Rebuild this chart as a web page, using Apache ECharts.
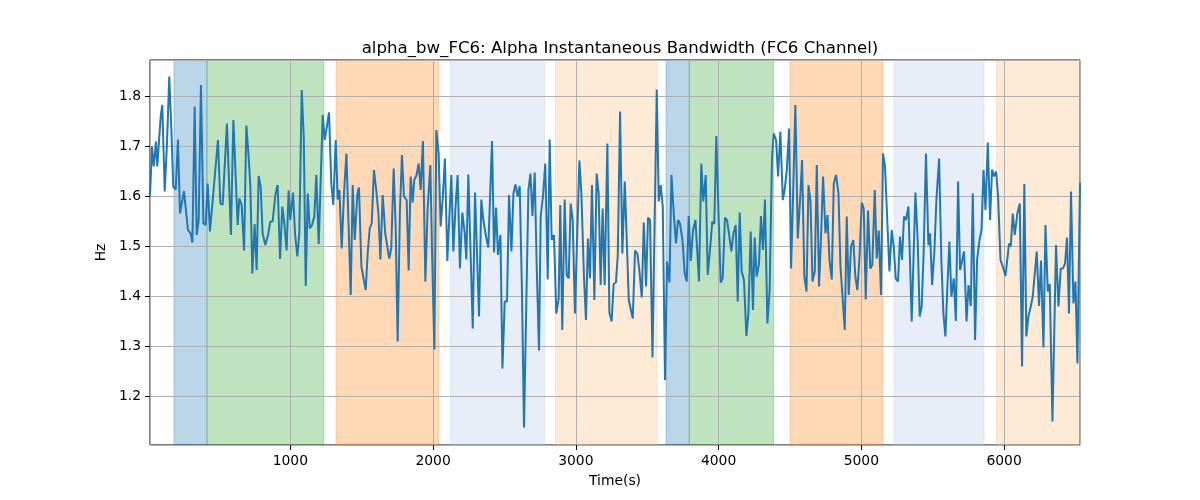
<!DOCTYPE html>
<html>
<head>
<meta charset="utf-8">
<script src="https://cdn.jsdelivr.net/npm/echarts@6/dist/echarts.min.js"></script>
<style>
  html, body { margin: 0; padding: 0; background: #fff; }
  #chart { width: 1200px; height: 500px; }
</style>
</head>
<body>
<div id="chart"></div>
<script>
// 时间 (s)
var times = [
  17, 31, 43, 59, 68, 92, 103, 120, 136, 152, 166, 180, 197, 213, 227, 255, 283, 302, 314, 330,
  344, 358, 374, 391, 407, 421, 437, 451, 493, 510, 526, 556, 584, 601, 631, 643, 659, 676, 692, 708,
  720, 734, 750, 764, 778, 792, 806, 825, 844, 860, 876, 895, 911, 928, 944, 960, 974, 988, 1000, 1019,
  1033, 1049, 1063, 1080, 1094, 1108, 1122, 1136, 1152, 1168, 1182, 1199, 1227, 1241, 1271, 1287, 1301, 1318, 1332, 1344,
  1360, 1376, 1393, 1423, 1437, 1451, 1470, 1481, 1498, 1512, 1528, 1542, 1556, 1570, 1586, 1603, 1617, 1631, 1647, 1665,
  1682, 1693, 1707, 1724, 1738, 1752, 1768, 1782, 1796, 1815, 1829, 1843, 1857, 1868, 1885, 1899, 1913, 1929, 1946, 1962,
  1981, 1992, 2009, 2023, 2039, 2053, 2067, 2083, 2100, 2114, 2128, 2142, 2156, 2172, 2188, 2205, 2222, 2233, 2247, 2278,
  2294, 2322, 2338, 2352, 2371, 2387, 2413, 2427, 2441, 2455, 2472, 2486, 2502, 2518, 2532, 2549, 2563, 2577, 2593, 2607,
  2623, 2637, 2668, 2682, 2696, 2712, 2726, 2742, 2754, 2770, 2786, 2803, 2817, 2831, 2847, 2863, 2880, 2891, 2905, 2922,
  2936, 2950, 2964, 2978, 2994, 3025, 3039, 3057, 3071, 3085, 3099, 3113, 3130, 3146, 3160, 3174, 3188, 3202, 3221, 3235,
  3251, 3265, 3281, 3294, 3310, 3326, 3343, 3371, 3385, 3399, 3415, 3431, 3445, 3462, 3476, 3492, 3506, 3520, 3537, 3567,
  3581, 3595, 3609, 3625, 3639, 3656, 3670, 3686, 3702, 3716, 3730, 3747, 3763, 3777, 3791, 3805, 3821, 3838, 3863, 3879,
  3893, 3910, 3924, 3940, 3956, 3970, 3984, 3998, 4015, 4029, 4045, 4059, 4073, 4090, 4104, 4120, 4134, 4148, 4162, 4178,
  4195, 4209, 4225, 4241, 4253, 4267, 4283, 4297, 4311, 4325, 4342, 4358, 4374, 4386, 4403, 4417, 4433, 4450, 4464, 4478,
  4494, 4508, 4524, 4538, 4555, 4571, 4585, 4601, 4616, 4630, 4644, 4658, 4674, 4688, 4704, 4718, 4732, 4749, 4763, 4777,
  4793, 4807, 4823, 4840, 4854, 4870, 4884, 4898, 4912, 4928, 4944, 4958, 4972, 4986, 5003, 5017, 5031, 5047, 5063, 5077,
  5094, 5108, 5122, 5138, 5152, 5166, 5180, 5197, 5213, 5227, 5241, 5257, 5271, 5285, 5299, 5313, 5330, 5341, 5353, 5365,
  5379, 5395, 5409, 5423, 5437, 5453, 5470, 5482, 5496, 5512, 5526, 5545, 5561, 5575, 5589, 5603, 5617, 5631, 5648, 5662,
  5678, 5692, 5706, 5720, 5737, 5751, 5767, 5781, 5797, 5811, 5828, 5842, 5856, 5870, 5886, 5902, 5916, 5930, 5944, 5958,
  5975, 5991, 6010, 6035, 6047, 6061, 6075, 6093, 6110, 6126, 6142, 6156, 6170, 6187, 6201, 6215, 6229, 6245, 6259, 6276,
  6290, 6306, 6320, 6339, 6364, 6381, 6397, 6413, 6427, 6441, 6455, 6469, 6486, 6500, 6514, 6532
];
// alpha 瞬时带宽 (Hz)
var bandwidth = [
  1.600, 1.699, 1.659, 1.709, 1.659, 1.759, 1.782, 1.609, 1.705, 1.839, 1.739, 1.619, 1.613, 1.713, 1.565, 1.610, 1.532, 1.525, 1.507, 1.779,
  1.522, 1.552, 1.822, 1.545, 1.542, 1.625, 1.529, 1.527, 1.712, 1.585, 1.582, 1.745, 1.522, 1.752, 1.542, 1.595, 1.582, 1.491, 1.741, 1.679,
  1.619, 1.445, 1.544, 1.452, 1.640, 1.619, 1.525, 1.502, 1.522, 1.549, 1.549, 1.602, 1.622, 1.474, 1.579, 1.539, 1.491, 1.611, 1.552, 1.607,
  1.525, 1.479, 1.525, 1.812, 1.719, 1.420, 1.605, 1.535, 1.542, 1.559, 1.642, 1.504, 1.762, 1.712, 1.767, 1.625, 1.582, 1.712, 1.593, 1.612,
  1.495, 1.605, 1.685, 1.402, 1.622, 1.512, 1.605, 1.617, 1.459, 1.455, 1.412, 1.485, 1.535, 1.545, 1.652, 1.609, 1.565, 1.473, 1.602, 1.525,
  1.495, 1.475, 1.495, 1.655, 1.539, 1.309, 1.572, 1.682, 1.599, 1.592, 1.451, 1.639, 1.587, 1.632, 1.642, 1.665, 1.612, 1.710, 1.429, 1.575,
  1.662, 1.499, 1.293, 1.732, 1.685, 1.539, 1.592, 1.675, 1.470, 1.559, 1.642, 1.489, 1.572, 1.642, 1.455, 1.567, 1.525, 1.473, 1.643, 1.335,
  1.607, 1.359, 1.593, 1.552, 1.519, 1.497, 1.710, 1.487, 1.577, 1.482, 1.522, 1.255, 1.389, 1.389, 1.602, 1.489, 1.605, 1.623, 1.599, 1.620,
  1.405, 1.137, 1.612, 1.645, 1.560, 1.647, 1.459, 1.291, 1.559, 1.600, 1.665, 1.433, 1.713, 1.512, 1.522, 1.365, 1.395, 1.582, 1.332, 1.593,
  1.442, 1.435, 1.585, 1.552, 1.365, 1.671, 1.605, 1.439, 1.352, 1.515, 1.435, 1.622, 1.392, 1.645, 1.605, 1.422, 1.575, 1.422, 1.705, 1.367,
  1.349, 1.424, 1.427, 1.482, 1.769, 1.485, 1.629, 1.392, 1.392, 1.355, 1.491, 1.485, 1.452, 1.397, 1.547, 1.419, 1.557, 1.552, 1.277, 1.813,
  1.589, 1.622, 1.579, 1.232, 1.469, 1.427, 1.642, 1.565, 1.505, 1.552, 1.545, 1.512, 1.445, 1.429, 1.560, 1.470, 1.531, 1.552, 1.429, 1.665,
  1.589, 1.642, 1.442, 1.492, 1.549, 1.544, 1.720, 1.579, 1.427, 1.435, 1.557, 1.552, 1.525, 1.489, 1.525, 1.542, 1.389, 1.567, 1.449, 1.432,
  1.320, 1.365, 1.529, 1.372, 1.517, 1.439, 1.464, 1.560, 1.492, 1.593, 1.345, 1.412, 1.672, 1.725, 1.712, 1.639, 1.729, 1.592, 1.615, 1.652,
  1.735, 1.455, 1.625, 1.782, 1.515, 1.592, 1.672, 1.439, 1.409, 1.622, 1.589, 1.429, 1.449, 1.662, 1.419, 1.519, 1.639, 1.525, 1.562, 1.472,
  1.433, 1.625, 1.642, 1.605, 1.459, 1.392, 1.332, 1.559, 1.402, 1.499, 1.512, 1.439, 1.412, 1.470, 1.587, 1.575, 1.393, 1.571, 1.455, 1.462,
  1.612, 1.475, 1.531, 1.402, 1.685, 1.659, 1.659, 1.449, 1.532, 1.499, 1.435, 1.429, 1.519, 1.472, 1.559, 1.552, 1.579, 1.470, 1.349, 1.349,
  1.607, 1.510, 1.359, 1.379, 1.490, 1.685, 1.502, 1.525, 1.422, 1.490, 1.592, 1.675, 1.470, 1.365, 1.319, 1.420, 1.509, 1.399, 1.435, 1.350,
  1.629, 1.452, 1.449, 1.489, 1.349, 1.422, 1.380, 1.605, 1.312, 1.472, 1.512, 1.532, 1.652, 1.572, 1.707, 1.552, 1.653, 1.639, 1.649, 1.600,
  1.472, 1.459, 1.440, 1.505, 1.499, 1.565, 1.522, 1.565, 1.585, 1.259, 1.624, 1.319, 1.359, 1.379, 1.399, 1.397, 1.489, 1.380, 1.471, 1.297,
  1.542, 1.409, 1.424, 1.149, 1.502, 1.379, 1.455, 1.455, 1.465, 1.517, 1.365, 1.609, 1.385, 1.429, 1.265, 1.627
];
// 背景区间 (s)
var spanStart = [185, 416, 1320, 2121, 2857, 3632, 3795, 4501, 5229, 5946];
var spanEnd   = [416, 1235, 2040, 2782, 3569, 3795, 4386, 5150, 5860, 6532];
var spanKind  = ['blue', 'green', 'orange', 'lightblue', 'lightorange', 'blue', 'green', 'orange', 'lightblue', 'lightorange'];

var spanColors = {
  blue: 'rgba(31,119,180,0.3)',
  green: 'rgba(44,160,44,0.3)',
  orange: 'rgba(255,127,14,0.3)',
  lightblue: 'rgba(174,199,232,0.3)',
  lightorange: 'rgba(255,187,120,0.3)'
};

var lineData = times.map(function (t, i) { return [t, bandwidth[i]]; });
var areas = spanStart.map(function (s, i) {
  var c = spanColors[spanKind[i]];
  return [
    { xAxis: s, itemStyle: { color: c, borderColor: c, borderWidth: 1 } },
    { xAxis: spanEnd[i] }
  ];
});

var font = 'DejaVu Sans';
var myChart = echarts.init(document.getElementById('chart'));
var option = {
  animation: false,
  backgroundColor: '#fff',
  title: {
    text: 'alpha_bw_FC6: Alpha Instantaneous Bandwidth (FC6 Channel)',
    left: 615,
    textAlign: 'center',
    top: 35,
    textStyle: { fontFamily: font, fontSize: 16.6, fontWeight: 'normal', color: '#000' }
  },
  grid: {
    left: 150, right: 120, top: 60, bottom: 55,
    show: true, borderColor: '#000', borderWidth: 1, backgroundColor: 'transparent'
  },
  xAxis: {
    type: 'value',
    min: 17, max: 6532,
    minInterval: 1000, maxInterval: 1000,
    z: 3,
    name: 'Time(s)',
    nameLocation: 'middle',
    nameGap: 29,
    nameTextStyle: { fontFamily: font, fontSize: 13.9, color: '#000' },
    axisLine: { show: false },
    axisTick: { show: true, inside: false, length: 5, lineStyle: { color: '#000', width: 1 } },
    axisLabel: {
      fontFamily: font, fontSize: 13.9, color: '#000', margin: 9,
      showMinLabel: false, showMaxLabel: false,
      formatter: function (v) { return String(Math.round(v)); }
    },
    splitLine: { show: true, lineStyle: { color: '#b0b0b0', width: 1 } }
  },
  yAxis: {
    type: 'value',
    min: 1.102, max: 1.872,
    minInterval: 0.1, maxInterval: 0.1,
    z: 3,
    name: 'Hz',
    nameLocation: 'middle',
    nameGap: 37,
    nameRotate: 90,
    nameTextStyle: { fontFamily: font, fontSize: 13.9, color: '#000' },
    axisLine: { show: false },
    axisTick: { show: true, inside: false, length: 5, lineStyle: { color: '#000', width: 1 } },
    axisLabel: {
      fontFamily: font, fontSize: 13.9, color: '#000', margin: 9,
      showMinLabel: false, showMaxLabel: false,
      formatter: function (v) { return v.toFixed(1); }
    },
    splitLine: { show: true, lineStyle: { color: '#b0b0b0', width: 1 } }
  },
  series: [
    {
      name: 'spans',
      type: 'line',
      data: [],
      z: 1,
      silent: true,
      markArea: { silent: true, data: areas }
    },
    {
      name: 'alpha_bw_FC6',
      type: 'line',
      data: lineData,
      z: 5,
      showSymbol: false,
      symbol: 'none',
      lineStyle: { color: '#1f77b4', width: 2 },
      itemStyle: { color: '#1f77b4' }
    }
  ]
};
myChart.setOption(option);
</script>
</body>
</html>
